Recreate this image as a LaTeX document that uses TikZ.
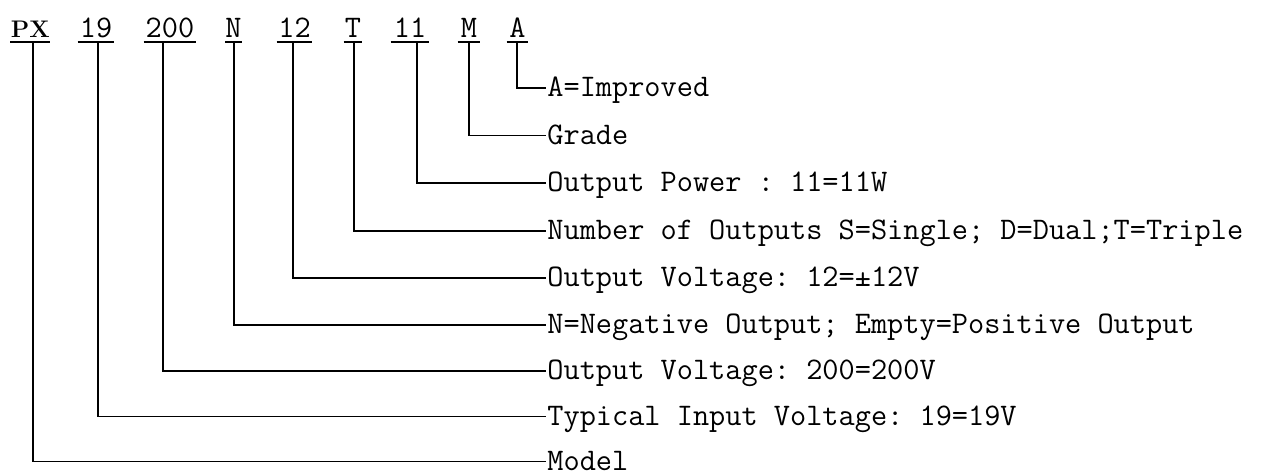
\documentclass[tikz,border=0pt]{standalone}
\usepackage{fontspec}
\begin{document}
\begin{tikzpicture}[x=0.5pt,y=-0.5pt,
  txt/.style={font=\fontsize{15.71}{18}\selectfont\ttfamily\frenchspacing},
  lab/.style={txt, anchor=base, inner sep=0pt},
  desc/.style={txt, anchor=west, inner xsep=0.5pt, inner ysep=0pt, text height=8.6pt, text depth=0pt},
  conn/.style={line width=0.9pt},
  uline/.style={line width=0.9pt}]
\useasboundingbox[fill=white] (0,0) rectangle (1265,476);

% code letters
\node[lab, font=\fontsize{12}{14}\selectfont\rmfamily\bfseries, minimum width=17.75pt] (nPX) at (30.25,38) {PX};
\node[lab, minimum width=18pt]   (n19)  at (96,38)    {19};
\node[lab, minimum width=26pt]   (n200) at (170,38)   {200};
\node[lab, minimum width=6.5pt]  (nN)   at (233.5,38) {N};
\node[lab, minimum width=17.5pt] (n12)  at (294.5,38) {12};
\node[lab, minimum width=9pt]    (nT)   at (353,38)   {T};
\node[lab, minimum width=19pt]   (n11)  at (410,38)   {11};
\node[lab, minimum width=11pt]   (nM)   at (469,38)   {M};
\node[lab, minimum width=10.5pt] (nA)   at (517.5,38) {A};

\foreach \n in {nPX,n19,n200,nN,n12,nT,n11,nM,nA}
  \draw[uline] ([yshift=-1.85pt]\n.base west) -- ([yshift=-1.85pt]\n.base east);

% connector start points on the underlines
\coordinate (tPX)  at (33,41.7);
\coordinate (t19)  at (98,41.7);
\coordinate (t200) at (163,41.7);
\coordinate (tN)   at (234,41.7);
\coordinate (t12)  at (293,41.7);
\coordinate (tT)   at (354,41.7);
\coordinate (t11)  at (417,41.7);
\coordinate (tM)   at (469,41.7);
\coordinate (tA)   at (517,41.7);

% descriptions
\node[desc] (dA)   at (546,87.7)  {A=Improved};
\node[desc] (dM)   at (546,135.5) {Grade};
\node[desc] (d11)  at (546,183.3) {Output Power : 11=11W};
\node[desc] (dT)   at (546,231)   {Number of Outputs S=Single; D=Dual;T=Triple};
\node[desc] (d12)  at (546,278)   {Output Voltage: 12=±12V};
\node[desc] (dN)   at (546,324.7) {N=Negative Output; Empty=Positive Output};
\node[desc] (d200) at (546,370.8) {Output Voltage: 200=200V};
\node[desc] (d19)  at (546,416.5) {Typical Input Voltage: 19=19V};
\node[desc] (dPX)  at (546,461.5) {Model};

% connectors
\draw[conn] (tA)   |- (dA.west);
\draw[conn] (tM)   |- (dM.west);
\draw[conn] (t11)  |- (d11.west);
\draw[conn] (tT)   |- (dT.west);
\draw[conn] (t12)  |- (d12.west);
\draw[conn] (tN)   |- (dN.west);
\draw[conn] (t200) |- (d200.west);
\draw[conn] (t19)  |- (d19.west);
\draw[conn] (tPX)  |- (dPX.west);
\end{tikzpicture}
\end{document}
